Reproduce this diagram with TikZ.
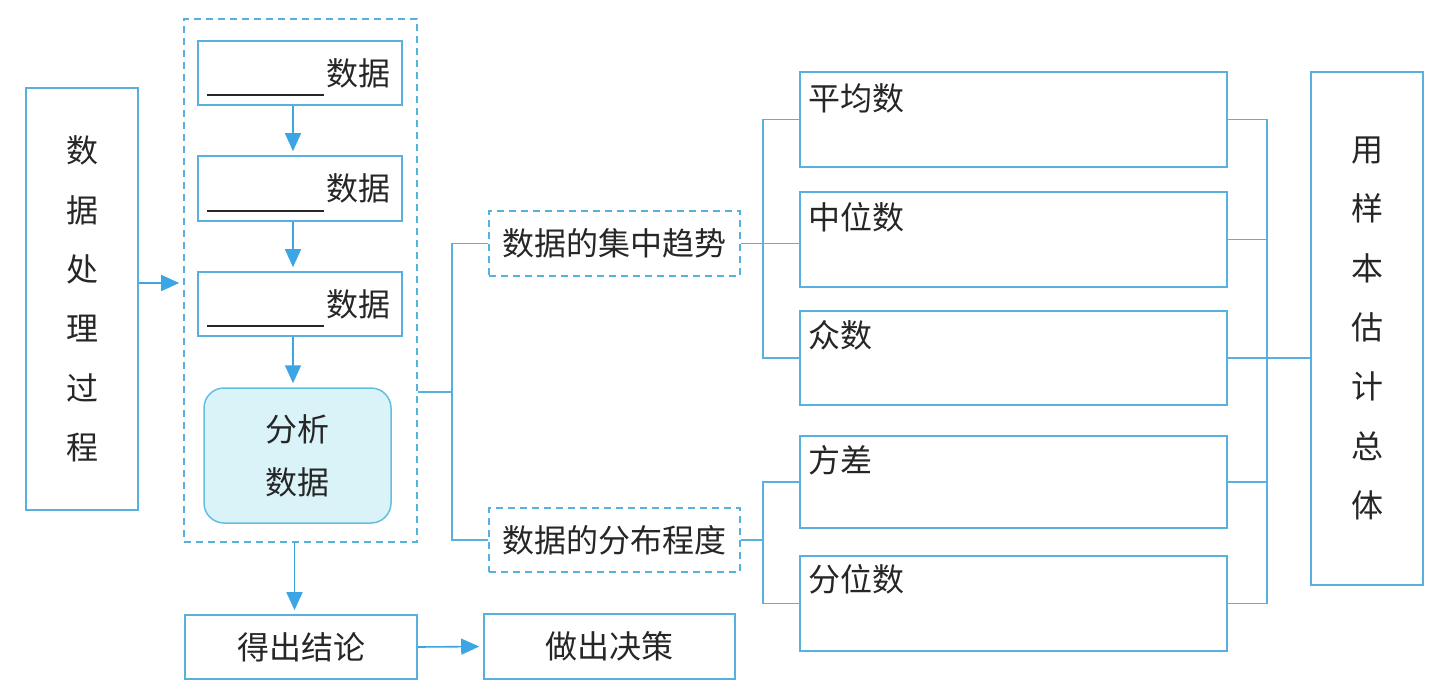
\documentclass[tikz,border=0pt]{standalone}
\usepackage{fontspec}
\newfontfamily\cjk{Noto Sans CJK SC}
\usetikzlibrary{arrows.meta,calc}
\definecolor{lineblue}{RGB}{88,176,222}
\definecolor{arrowblue}{RGB}{60,165,228}
\definecolor{fillcyan}{RGB}{218,243,249}
\definecolor{edgecyan}{RGB}{100,190,222}
\tikzset{
  base/.style={font=\cjk\fontsize{32}{38}\selectfont, text=black!85},
  box/.style={base, draw=lineblue, line width=1.6pt, inner sep=0pt},
  dbox/.style={box, dash pattern=on 7pt off 5pt},
  ln/.style={draw=lineblue, line width=1.6pt},
  arr/.style={ln, -{Triangle[length=18pt,width=16pt]}, arrowblue, shorten >=4pt},
  lbl/.style={base, inner sep=0pt},
}
\begin{document}
\begin{tikzpicture}[x=1pt,y=-1pt]
\useasboundingbox (0,0) rectangle (1439,693);
% left process box
\node[box, minimum width=112pt, minimum height=422pt, align=center,
      font=\cjk\fontsize{32}{59.3}\selectfont] (proc) at (82,299)
      {数\\据\\处\\理\\过\\程};
% outer dashed container
\node[dbox, minimum width=233pt, minimum height=523pt] (outer) at (300.5,280.5) {};
% three blank boxes
\node[box, minimum width=204pt, minimum height=64pt] (b1) at (300,73) {};
\node[box, minimum width=204pt, minimum height=65pt] (b2) at (300,188.5) {};
\node[box, minimum width=204pt, minimum height=64pt] (b3) at (300,304) {};
\foreach \b in {b1,b2,b3}{
  \node[lbl, anchor=east] (\b t) at ([xshift=-12pt]\b.east) {数据};
  \draw[black!85, line width=1.8pt] ([xshift=10pt,yshift=11pt]\b.south west) -- ++(117,0);
}
% analyse box
\node[base, draw=edgecyan, fill=fillcyan, line width=1.5pt, rounded corners=20pt,
      minimum width=187pt, minimum height=135pt, align=center,
      font=\cjk\fontsize{32}{53}\selectfont] (ana) at (297.5,455.5) {分析\\数据};
% conclusion / decision
\node[box, minimum width=232pt, minimum height=64pt] (concl) at (301,647) {得出结论};
\node[box, minimum width=251pt, minimum height=65pt] (dec) at (609.5,646.5) {做出决策};
% central tendency / dispersion
\node[dbox, minimum width=251pt, minimum height=65pt] (cent) at (614.5,243.5) {数据的集中趋势};
\node[dbox, minimum width=251pt, minimum height=64pt] (disp) at (614.5,540) {数据的分布程度};
% right boxes
\node[box, minimum width=427pt, minimum height=95pt] (r1) at (1013.5,119.5) {};
\node[box, minimum width=427pt, minimum height=95pt] (r2) at (1013.5,239.5) {};
\node[box, minimum width=427pt, minimum height=94pt] (r3) at (1013.5,358) {};
\node[box, minimum width=427pt, minimum height=92pt] (r4) at (1013.5,482) {};
\node[box, minimum width=427pt, minimum height=95pt] (r5) at (1013.5,603.5) {};
\node[lbl, anchor=west] (r1t) at ([xshift=9pt,yshift=-27pt]r1.north west) {平均数};
\node[lbl, anchor=west] (r2t) at ([xshift=9pt,yshift=-26pt]r2.north west) {中位数};
\node[lbl, anchor=west] (r3t) at ([xshift=9pt,yshift=-25pt]r3.north west) {众数};
\node[lbl, anchor=west] (r4t) at ([xshift=9pt,yshift=-25pt]r4.north west) {方差};
\node[lbl, anchor=west] (r5t) at ([xshift=9pt,yshift=-24pt]r5.north west) {分位数};
% estimate box
\node[box, minimum width=112pt, minimum height=513pt, align=center,
      font=\cjk\fontsize{32}{59.3}\selectfont] (est) at (1367,328.5)
      {用\\样\\本\\估\\计\\总\\体};
% arrows
\draw[arr] ([yshift=16pt]proc.east) -- ([yshift=16pt]proc.east -| outer.west);
\draw[arr] ([xshift=-7pt]b1.south) -- ([xshift=-7pt]b2.north);
\draw[arr] ([xshift=-7pt]b2.south) -- ([xshift=-7pt]b3.north);
\draw[arr] ([xshift=-7pt]b3.south) -- ([xshift=-7pt]b3.south |- ana.north);
\draw[arr] ([xshift=-6pt]outer.south) -- ([xshift=-6pt]outer.south |- concl.north);
\draw[arr] (concl.east) -- (dec.west);
% left bracket
\coordinate (j1) at (452,392);
\draw[ln] (outer.east |- j1) -- (j1);
\draw[ln] (cent.west) -| (j1) |- (disp.west);
% middle brackets
\coordinate (k) at (763,0);
\draw[ln] (r1.west) -| (k |- r3.west) -- (r3.west);
\draw[ln] (cent.east) -- (cent.east -| r2.west);
\draw[ln] (r4.west) -| (k |- r5.west) -- (r5.west);
\draw[ln] (disp.east) -- (disp.east -| k);
% right bracket
\coordinate (m) at (1267,0);
\draw[ln] (r1.east) -| (m |- r5.east) -- (r5.east);
\draw[ln] (r2.east) -- (r2.east -| m);
\draw[ln] (r4.east) -- (r4.east -| m);
\draw[ln] (r3.east) -- (r3.east -| est.west);
\end{tikzpicture}
\end{document}
